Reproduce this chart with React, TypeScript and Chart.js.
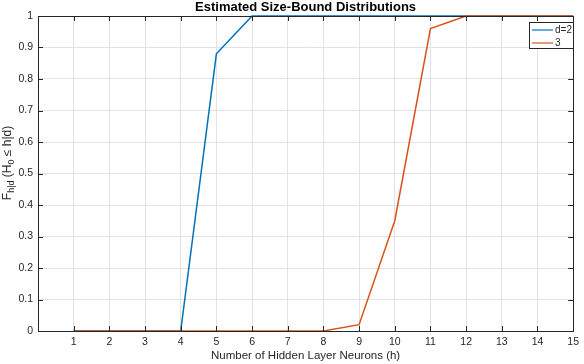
import React, { useEffect, useRef } from "react";
import { Chart, registerables } from "chart.js";

Chart.register(...registerables);

const hValues = [1, 2, 3, 4, 5, 6, 7, 8, 9, 10, 11, 12, 13, 14, 15];
const seriesD2 = [0, 0, 0, 0, 0.88, 1, 1, 1, 1, 1, 1, 1, 1, 1, 1];
const seriesD3 = [0, 0, 0, 0, 0, 0, 0, 0, 0.02, 0.35, 0.96, 1, 1, 1, 1];
const legendLabels = ["d=2", "3"];
const titleText = "Estimated Size-Bound Distributions";
const xLabelText = "Number of Hidden Layer Neurons (h)";

const BLUE = "#0072BD";
const ORANGE = "#D95319";
const AXIS = "#262626";
const FONT = "'Liberation Sans', Arial, sans-serif";

const decorPlugin = {
  id: "decor",
  afterDraw(chart: any) {
    const { ctx, chartArea: a, scales } = chart;
    const xs = scales.x;
    const ys = scales.y;
    ctx.save();
    ctx.strokeStyle = AXIS;
    ctx.lineWidth = 1;
    ctx.strokeRect(Math.round(a.left) + 0.5, Math.round(a.top) + 0.5, Math.round(a.right - a.left), Math.round(a.bottom - a.top));
    const tl = 5;
    ctx.beginPath();
    xs.ticks.forEach((t: any) => {
      const px = Math.round(xs.getPixelForValue(t.value)) + 0.5;
      ctx.moveTo(px, a.bottom);
      ctx.lineTo(px, a.bottom - tl);
      ctx.moveTo(px, a.top);
      ctx.lineTo(px, a.top + tl);
    });
    ys.ticks.forEach((t: any) => {
      const py = Math.round(ys.getPixelForValue(t.value)) + 0.5;
      ctx.moveTo(a.left, py);
      ctx.lineTo(a.left + tl, py);
      ctx.moveTo(a.right, py);
      ctx.lineTo(a.right - tl, py);
    });
    ctx.stroke();

    // title
    ctx.fillStyle = "#000";
    ctx.font = `bold 13px ${FONT}`;
    ctx.textAlign = "center";
    ctx.textBaseline = "middle";
    ctx.fillText(titleText, (a.left + a.right) / 2, 7);

    // x label
    ctx.fillStyle = AXIS;
    ctx.font = `11.5px ${FONT}`;
    ctx.fillText(xLabelText, (a.left + a.right) / 2, 356);

    // y label with subscripts
    ctx.save();
    ctx.translate(8, 163);
    ctx.rotate(-Math.PI / 2);
    const parts: [string, boolean][] = [
      ["F", false],
      ["h|d", true],
      [" (H", false],
      ["0", true],
      [" \u2264 h|d)", false],
    ];
    const mainFont = `12px ${FONT}`;
    const subFont = `9px ${FONT}`;
    let total = 0;
    parts.forEach(([s, sub]) => {
      ctx.font = sub ? subFont : mainFont;
      total += ctx.measureText(s).width;
    });
    let cx = -total / 2;
    ctx.textAlign = "left";
    ctx.textBaseline = "middle";
    parts.forEach(([s, sub]) => {
      ctx.font = sub ? subFont : mainFont;
      ctx.fillText(s, cx, sub ? 4 : 0);
      cx += ctx.measureText(s).width;
    });
    ctx.restore();

    // legend
    const lx = 529.5, ly = 22.5, lw = 44, lh = 26;
    ctx.fillStyle = "#fff";
    ctx.fillRect(lx, ly, lw, lh);
    ctx.strokeStyle = AXIS;
    ctx.lineWidth = 1;
    ctx.strokeRect(lx, ly, lw, lh);
    const colors = [BLUE, ORANGE];
    legendLabels.forEach((lab, i) => {
      const yy = 30 + i * 13;
      ctx.strokeStyle = colors[i];
      ctx.lineWidth = 1.2;
      ctx.beginPath();
      ctx.moveTo(532, yy);
      ctx.lineTo(553, yy);
      ctx.stroke();
      ctx.fillStyle = AXIS;
      ctx.font = `10px ${FONT}`;
      ctx.textAlign = "left";
      ctx.textBaseline = "middle";
      ctx.fillText(lab, 555, yy);
    });
    ctx.restore();
  },
};

export default function App() {
  const ref = useRef<HTMLCanvasElement>(null);
  useEffect(() => {
    if (!ref.current) return;
    const chart = new Chart(ref.current, {
      type: "line",
      data: {
        datasets: [
          {
            label: legendLabels[0],
            data: hValues.map((h, i) => ({ x: h, y: seriesD2[i] })),
            borderColor: BLUE,
            borderWidth: 1.5,
            pointRadius: 0,
            tension: 0,
            clip: false,
            order: 1,
          },
          {
            label: legendLabels[1],
            data: hValues.map((h, i) => ({ x: h, y: seriesD3[i] })),
            borderColor: ORANGE,
            borderWidth: 1.5,
            pointRadius: 0,
            tension: 0,
            clip: false,
            order: 0,
          },
        ],
      },
      options: {
        responsive: false,
        animation: false,
        layout: { padding: { left: 0, right: 7, top: 16, bottom: 0 } },
        plugins: { legend: { display: false }, title: { display: false }, tooltip: { enabled: false } },
        scales: {
          x: {
            type: "linear",
            min: 0,
            max: 15,
            afterFit: (s: any) => { s.height = 33; },
            grid: { color: "#e3e3e3", drawTicks: false },
            border: { display: false },
            ticks: {
              stepSize: 1,
              padding: 5,
              color: AXIS,
              font: { family: FONT, size: 10.5 },
              maxRotation: 0,
              autoSkip: false,
              callback: (v: any) => (v === 0 ? "" : String(v)),
            },
          },
          y: {
            min: 0,
            max: 1,
            afterFit: (s: any) => { s.width = 38; },
            grid: { color: "#e3e3e3", drawTicks: false },
            border: { display: false },
            ticks: {
              stepSize: 0.1,
              padding: 5,
              color: AXIS,
              font: { family: FONT, size: 10.5 },
              callback: (v: any) => String(Math.round(v * 10) / 10),
            },
          },
        },
      },
      plugins: [decorPlugin],
    });
    return () => chart.destroy();
  }, []);
  return (
    <div style={{ position: "absolute", left: 0, top: 0, width: 584, height: 364, background: "#fff" }}>
      <canvas ref={ref} width={584} height={364} />
    </div>
  );
}
